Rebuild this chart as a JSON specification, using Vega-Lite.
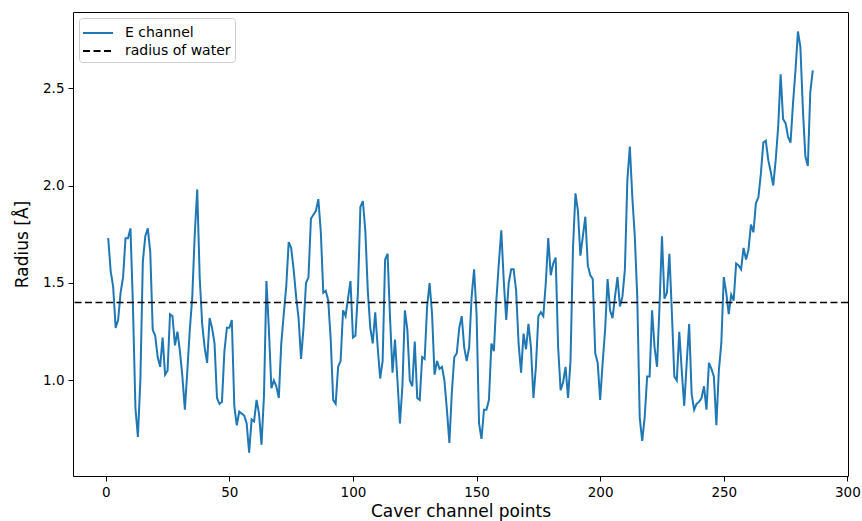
{
  "$schema": "https://vega.github.io/schema/vega-lite/v6.json",
  "width": 775,
  "height": 464,
  "autosize": {"type": "none"},
  "padding": {"left": 73, "top": 12, "right": 14, "bottom": 45},
  "background": "white",
  "config": {
    "font": "DejaVu Sans",
    "view": {"stroke": "black", "strokeWidth": 1},
    "axis": {
      "domain": false,
      "grid": false,
      "ticks": true,
      "tickColor": "black",
      "tickSize": 5,
      "tickWidth": 1,
      "labelColor": "black",
      "labelFontSize": 13.5,
      "labelPadding": 4,
      "labelFlush": false,
      "titleColor": "black",
      "titleFontSize": 17,
      "titleFontWeight": "normal"
    },
    "legend": {
      "orient": "top-left",
      "offset": 6,
      "padding": 4,
      "strokeColor": "#cccccc",
      "fillColor": "white",
      "cornerRadius": 3,
      "labelFontSize": 14,
      "labelColor": "black",
      "symbolType": "M-1.1,0H1.9",
      "symbolSize": 400,
      "symbolStrokeWidth": 1.8,
      "rowPadding": -1,
      "labelOffset": 20
    }
  },
  "datasets": {
    "channel": [
      {"point":1,"radius":1.73},{"point":2,"radius":1.56},{"point":3,"radius":1.48},{"point":4,"radius":1.27},{"point":5,"radius":1.31},
      {"point":6,"radius":1.45},{"point":7,"radius":1.53},{"point":8,"radius":1.73},{"point":9,"radius":1.73},{"point":10,"radius":1.78},
      {"point":11,"radius":1.38},{"point":12,"radius":0.86},{"point":13,"radius":0.71},{"point":14,"radius":1.00},{"point":15,"radius":1.61},
      {"point":16,"radius":1.74},{"point":17,"radius":1.78},{"point":18,"radius":1.66},{"point":19,"radius":1.26},{"point":20,"radius":1.23},
      {"point":21,"radius":1.12},{"point":22,"radius":1.07},{"point":23,"radius":1.22},{"point":24,"radius":1.03},{"point":25,"radius":1.05},
      {"point":26,"radius":1.34},{"point":27,"radius":1.33},{"point":28,"radius":1.18},{"point":29,"radius":1.25},{"point":30,"radius":1.15},
      {"point":31,"radius":1.02},{"point":32,"radius":0.85},{"point":33,"radius":1.05},{"point":34,"radius":1.26},{"point":35,"radius":1.43},
      {"point":36,"radius":1.75},{"point":37,"radius":1.98},{"point":38,"radius":1.53},{"point":39,"radius":1.29},{"point":40,"radius":1.17},
      {"point":41,"radius":1.09},{"point":42,"radius":1.32},{"point":43,"radius":1.27},{"point":44,"radius":1.19},{"point":45,"radius":0.91},
      {"point":46,"radius":0.88},{"point":47,"radius":0.89},{"point":48,"radius":1.15},{"point":49,"radius":1.27},{"point":50,"radius":1.27},
      {"point":51,"radius":1.31},{"point":52,"radius":0.87},{"point":53,"radius":0.77},{"point":54,"radius":0.84},{"point":55,"radius":0.83},
      {"point":56,"radius":0.82},{"point":57,"radius":0.78},{"point":58,"radius":0.63},{"point":59,"radius":0.80},{"point":60,"radius":0.79},
      {"point":61,"radius":0.90},{"point":62,"radius":0.83},{"point":63,"radius":0.67},{"point":64,"radius":0.92},{"point":65,"radius":1.51},
      {"point":66,"radius":1.26},{"point":67,"radius":0.96},{"point":68,"radius":1.00},{"point":69,"radius":0.97},{"point":70,"radius":0.91},
      {"point":71,"radius":1.19},{"point":72,"radius":1.34},{"point":73,"radius":1.48},{"point":74,"radius":1.71},{"point":75,"radius":1.68},
      {"point":76,"radius":1.57},{"point":77,"radius":1.43},{"point":78,"radius":1.32},{"point":79,"radius":1.11},{"point":80,"radius":1.27},
      {"point":81,"radius":1.50},{"point":82,"radius":1.53},{"point":83,"radius":1.83},{"point":84,"radius":1.85},{"point":85,"radius":1.87},
      {"point":86,"radius":1.93},{"point":87,"radius":1.76},{"point":88,"radius":1.45},{"point":89,"radius":1.46},{"point":90,"radius":1.41},
      {"point":91,"radius":1.21},{"point":92,"radius":0.90},{"point":93,"radius":0.88},{"point":94,"radius":1.07},{"point":95,"radius":1.10},
      {"point":96,"radius":1.36},{"point":97,"radius":1.33},{"point":98,"radius":1.42},{"point":99,"radius":1.51},{"point":100,"radius":1.22},
      {"point":101,"radius":1.23},{"point":102,"radius":1.45},{"point":103,"radius":1.89},{"point":104,"radius":1.92},{"point":105,"radius":1.77},
      {"point":106,"radius":1.46},{"point":107,"radius":1.27},{"point":108,"radius":1.19},{"point":109,"radius":1.35},{"point":110,"radius":1.17},
      {"point":111,"radius":1.01},{"point":112,"radius":1.10},{"point":113,"radius":1.62},{"point":114,"radius":1.65},{"point":115,"radius":1.32},
      {"point":116,"radius":1.04},{"point":117,"radius":1.21},{"point":118,"radius":1.00},{"point":119,"radius":0.78},{"point":120,"radius":0.97},
      {"point":121,"radius":1.36},{"point":122,"radius":1.26},{"point":123,"radius":1.00},{"point":124,"radius":0.97},{"point":125,"radius":1.20},
      {"point":126,"radius":0.91},{"point":127,"radius":0.90},{"point":128,"radius":1.12},{"point":129,"radius":1.11},{"point":130,"radius":1.38},
      {"point":131,"radius":1.50},{"point":132,"radius":1.34},{"point":133,"radius":1.03},{"point":134,"radius":1.10},{"point":135,"radius":1.06},
      {"point":136,"radius":1.07},{"point":137,"radius":1.00},{"point":138,"radius":0.85},{"point":139,"radius":0.68},{"point":140,"radius":0.94},
      {"point":141,"radius":1.12},{"point":142,"radius":1.14},{"point":143,"radius":1.27},{"point":144,"radius":1.33},{"point":145,"radius":1.17},
      {"point":146,"radius":1.10},{"point":147,"radius":1.17},{"point":148,"radius":1.43},{"point":149,"radius":1.57},{"point":150,"radius":1.34},
      {"point":151,"radius":0.78},{"point":152,"radius":0.70},{"point":153,"radius":0.85},{"point":154,"radius":0.85},{"point":155,"radius":0.90},
      {"point":156,"radius":1.19},{"point":157,"radius":1.15},{"point":158,"radius":1.41},{"point":159,"radius":1.60},{"point":160,"radius":1.77},
      {"point":161,"radius":1.51},{"point":162,"radius":1.31},{"point":163,"radius":1.50},{"point":164,"radius":1.57},{"point":165,"radius":1.57},
      {"point":166,"radius":1.46},{"point":167,"radius":1.19},{"point":168,"radius":1.04},{"point":169,"radius":1.24},{"point":170,"radius":1.16},
      {"point":171,"radius":1.29},{"point":172,"radius":1.17},{"point":173,"radius":0.91},{"point":174,"radius":1.07},{"point":175,"radius":1.33},
      {"point":176,"radius":1.35},{"point":177,"radius":1.33},{"point":178,"radius":1.50},{"point":179,"radius":1.73},{"point":180,"radius":1.54},
      {"point":181,"radius":1.60},{"point":182,"radius":1.63},{"point":183,"radius":1.17},{"point":184,"radius":0.95},{"point":185,"radius":0.99},
      {"point":186,"radius":1.07},{"point":187,"radius":0.91},{"point":188,"radius":1.10},{"point":189,"radius":1.68},{"point":190,"radius":1.96},
      {"point":191,"radius":1.87},{"point":192,"radius":1.64},{"point":193,"radius":1.74},{"point":194,"radius":1.84},{"point":195,"radius":1.59},
      {"point":196,"radius":1.54},{"point":197,"radius":1.52},{"point":198,"radius":1.14},{"point":199,"radius":1.09},{"point":200,"radius":0.90},
      {"point":201,"radius":1.09},{"point":202,"radius":1.26},{"point":203,"radius":1.52},{"point":204,"radius":1.36},{"point":205,"radius":1.32},
      {"point":206,"radius":1.43},{"point":207,"radius":1.53},{"point":208,"radius":1.38},{"point":209,"radius":1.43},{"point":210,"radius":1.57},
      {"point":211,"radius":2.03},{"point":212,"radius":2.20},{"point":213,"radius":1.94},{"point":214,"radius":1.74},{"point":215,"radius":1.43},
      {"point":216,"radius":0.81},{"point":217,"radius":0.69},{"point":218,"radius":0.81},{"point":219,"radius":1.02},{"point":220,"radius":1.02},
      {"point":221,"radius":1.36},{"point":222,"radius":1.17},{"point":223,"radius":1.07},{"point":224,"radius":1.38},{"point":225,"radius":1.74},
      {"point":226,"radius":1.42},{"point":227,"radius":1.45},{"point":228,"radius":1.65},{"point":229,"radius":1.35},{"point":230,"radius":1.02},
      {"point":231,"radius":1.00},{"point":232,"radius":1.25},{"point":233,"radius":1.05},{"point":234,"radius":0.87},{"point":235,"radius":1.09},
      {"point":236,"radius":1.29},{"point":237,"radius":0.93},{"point":238,"radius":0.85},{"point":239,"radius":0.88},{"point":240,"radius":0.89},
      {"point":241,"radius":0.91},{"point":242,"radius":0.97},{"point":243,"radius":0.85},{"point":244,"radius":1.09},{"point":245,"radius":1.06},
      {"point":246,"radius":1.02},{"point":247,"radius":0.77},{"point":248,"radius":1.05},{"point":249,"radius":1.19},{"point":250,"radius":1.53},
      {"point":251,"radius":1.45},{"point":252,"radius":1.34},{"point":253,"radius":1.44},{"point":254,"radius":1.41},{"point":255,"radius":1.60},
      {"point":256,"radius":1.59},{"point":257,"radius":1.57},{"point":258,"radius":1.68},{"point":259,"radius":1.62},{"point":260,"radius":1.67},
      {"point":261,"radius":1.80},{"point":262,"radius":1.76},{"point":263,"radius":1.91},{"point":264,"radius":1.94},{"point":265,"radius":2.06},
      {"point":266,"radius":2.22},{"point":267,"radius":2.23},{"point":268,"radius":2.13},{"point":269,"radius":2.07},{"point":270,"radius":2.00},
      {"point":271,"radius":2.13},{"point":272,"radius":2.30},{"point":273,"radius":2.57},{"point":274,"radius":2.34},{"point":275,"radius":2.32},
      {"point":276,"radius":2.25},{"point":277,"radius":2.22},{"point":278,"radius":2.42},{"point":279,"radius":2.59},{"point":280,"radius":2.79},
      {"point":281,"radius":2.71},{"point":282,"radius":2.39},{"point":283,"radius":2.15},{"point":284,"radius":2.10},{"point":285,"radius":2.48},
      {"point":286,"radius":2.59}
    ],
    "water": [{"radius": 1.4}]
  },
  "layer": [
    {
      "data": {"name": "channel"},
      "mark": {"type": "line", "strokeWidth": 2, "clip": true},
      "encoding": {
        "x": {
          "field": "point",
          "type": "quantitative",
          "scale": {"domain": [-13.25, 300.25], "nice": false, "zero": false},
          "axis": {"values": [0, 50, 100, 150, 200, 250, 300], "title": "Caver channel points", "titlePadding": 5}
        },
        "y": {
          "field": "radius",
          "type": "quantitative",
          "scale": {"domain": [0.51, 2.89], "nice": false, "zero": false},
          "axis": {"values": [1.0, 1.5, 2.0, 2.5], "format": ".1f", "title": "Radius [Å]", "titlePadding": 11}
        },
        "color": {
          "datum": "E channel",
          "scale": {"domain": ["E channel", "radius of water"], "range": ["#1f77b4", "black"]},
          "legend": {"title": null}
        },
        "strokeDash": {
          "datum": "E channel",
          "scale": {"domain": ["E channel", "radius of water"], "range": [[1, 0], [7, 3.5]]},
          "legend": {"title": null}
        }
      }
    },
    {
      "data": {"name": "water"},
      "mark": {"type": "rule", "strokeWidth": 1.6},
      "encoding": {
        "y": {"field": "radius", "type": "quantitative"},
        "color": {"datum": "radius of water"},
        "strokeDash": {"datum": "radius of water"}
      }
    }
  ]
}
